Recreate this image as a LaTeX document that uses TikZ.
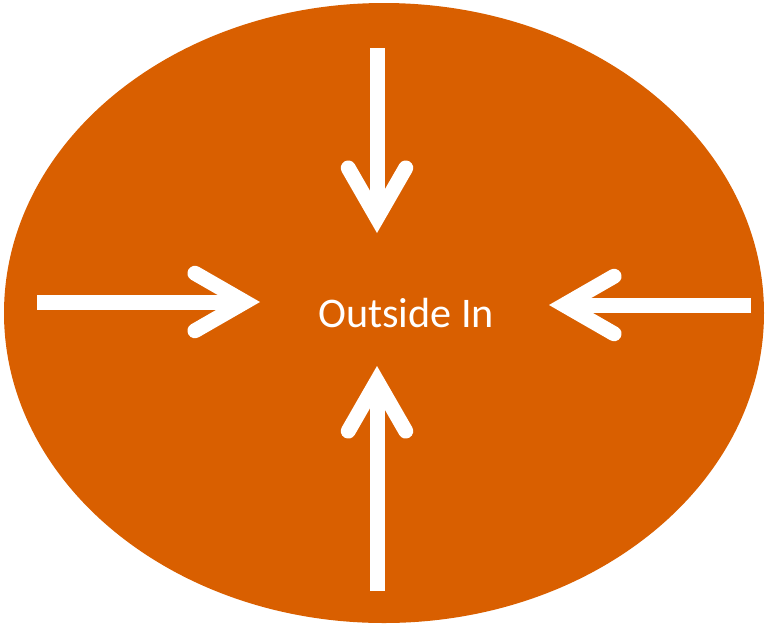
\documentclass[tikz,border=0pt]{standalone}
\usepackage{fontspec}
\setmainfont{Carlito}
\usetikzlibrary{arrows.meta}
\definecolor{burnt}{RGB}{217,95,0}
\begin{document}
\begin{tikzpicture}[x=0.02cm, y=-0.02cm,
    inarrow/.style={draw=white, line width=0.3cm,
      -{Straight Barb[length=1.0cm, width=1.15cm, line cap=round, line join=miter]}}]
  \useasboundingbox (0,0) rectangle (765,627);
  % Ellipse
  \fill[burnt] (384,313) ellipse [x radius=380, y radius=310];
  \node[anchor=base, text=white, font=\fontsize{24}{29}\selectfont] (label) at (406,327) {Outside In};
  % Arrows pointing in
  \coordinate (topS) at (377,48);   \coordinate (topE) at (377,233);
  \coordinate (botS) at (377,591);  \coordinate (botE) at (377,366);
  \coordinate (lftS) at (37,302);   \coordinate (lftE) at (260,302);
  \coordinate (rgtS) at (751,305);  \coordinate (rgtE) at (549,305);
  \draw[inarrow] (topS) -- (topE);
  \draw[inarrow] (botS) -- (botE);
  \draw[inarrow] (lftS) -- (lftE);
  \draw[inarrow] (rgtS) -- (rgtE);
\end{tikzpicture}
\end{document}
